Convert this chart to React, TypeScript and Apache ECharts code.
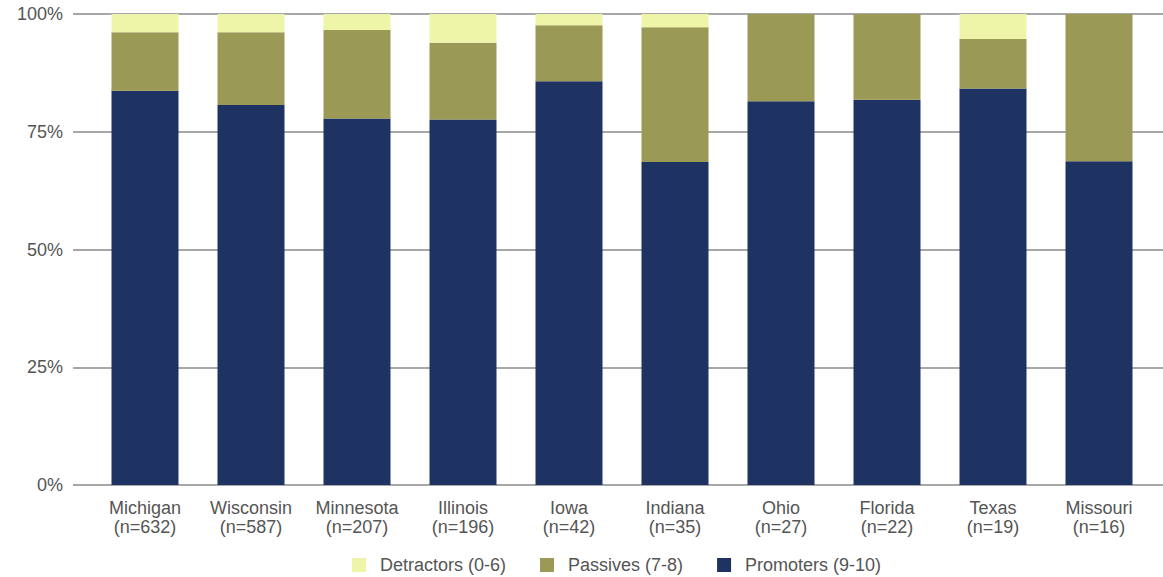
import React, { useEffect, useRef } from "react";
import * as echarts from "echarts";

const categories = [
  "Michigan\n(n=632)",
  "Wisconsin\n(n=587)",
  "Minnesota\n(n=207)",
  "Illinois\n(n=196)",
  "Iowa\n(n=42)",
  "Indiana\n(n=35)",
  "Ohio\n(n=27)",
  "Florida\n(n=22)",
  "Texas\n(n=19)",
  "Missouri\n(n=16)",
];
const promoters = [83.7, 80.7, 77.8, 77.6, 85.7, 68.6, 81.5, 81.8, 84.2, 68.75];
const passives = [12.4, 15.4, 18.8, 16.3, 11.9, 28.6, 18.5, 18.2, 10.5, 31.25];
const detractors = [3.9, 3.9, 3.4, 6.1, 2.4, 2.8, 0, 0, 5.3, 0];
const seriesNames = ["Detractors (0-6)", "Passives (7-8)", "Promoters (9-10)"];
const yTicks = [0, 25, 50, 75, 100];

const FONT = "'Liberation Sans', Arial, sans-serif";
const TEXT = "#555555";
const FS = 18;

export default function App() {
  const ref = useRef<HTMLDivElement>(null);
  useEffect(() => {
    if (!ref.current) return;
    const chart = echarts.init(ref.current, undefined, { renderer: "svg" });
    chart.setOption({
      animation: false,
      backgroundColor: "#ffffff",
      textStyle: { fontFamily: FONT },
      grid: [
        { left: 92, right: 11, top: 14, bottom: 92 },
        { left: 73, right: 0, top: 14, bottom: 92 },
      ],
      legend: {
        data: seriesNames,
        top: 551,
        left: 347,
        padding: 5,
        icon: "rect",
        itemWidth: 14,
        itemHeight: 14,
        itemGap: 34,
        textStyle: {
          color: TEXT,
          fontSize: FS,
          fontFamily: FONT,
          padding: [0, 0, 0, 9],
        },
      },
      xAxis: [
        {
          type: "category",
          gridIndex: 0,
          data: categories,
          axisLine: { show: false },
          axisTick: { show: false },
          axisLabel: {
            interval: 0,
            color: TEXT,
            fontSize: FS,
            lineHeight: 19.5,
            margin: 13,
            fontFamily: FONT,
          },
        },
        { type: "value", gridIndex: 1, show: false, min: 0, max: 1 },
      ],
      yAxis: [
        {
          type: "value",
          gridIndex: 0,
          min: 0,
          max: 100,
          interval: 25,
          show: false,
          splitLine: { show: false },
        },
        {
          type: "value",
          gridIndex: 1,
          min: yTicks[0],
          max: yTicks[yTicks.length - 1],
          interval: 25,
          axisLine: { show: false },
          axisTick: { show: false },
          axisLabel: {
            formatter: "{value}%",
            color: TEXT,
            fontSize: FS,
            margin: 10,
            fontFamily: FONT,
          },
          splitLine: { lineStyle: { color: "#8a8a8a", width: 1.5 } },
        },
      ],
      series: [
        {
          name: seriesNames[2],
          type: "bar",
          stack: "s",
          xAxisIndex: 0,
          yAxisIndex: 0,
          barWidth: 67,
          data: promoters,
          itemStyle: { color: "#1e3361" },
        },
        {
          name: seriesNames[1],
          type: "bar",
          stack: "s",
          xAxisIndex: 0,
          yAxisIndex: 0,
          barWidth: 67,
          data: passives,
          itemStyle: { color: "#9a9956" },
        },
        {
          name: seriesNames[0],
          type: "bar",
          stack: "s",
          xAxisIndex: 0,
          yAxisIndex: 0,
          barWidth: 67,
          data: detractors,
          itemStyle: { color: "#eef5a9" },
        },
      ],
    });
    return () => chart.dispose();
  }, []);
  return <div ref={ref} style={{ width: 1163, height: 577, position: "absolute", left: 0, top: 0 }} />;
}
